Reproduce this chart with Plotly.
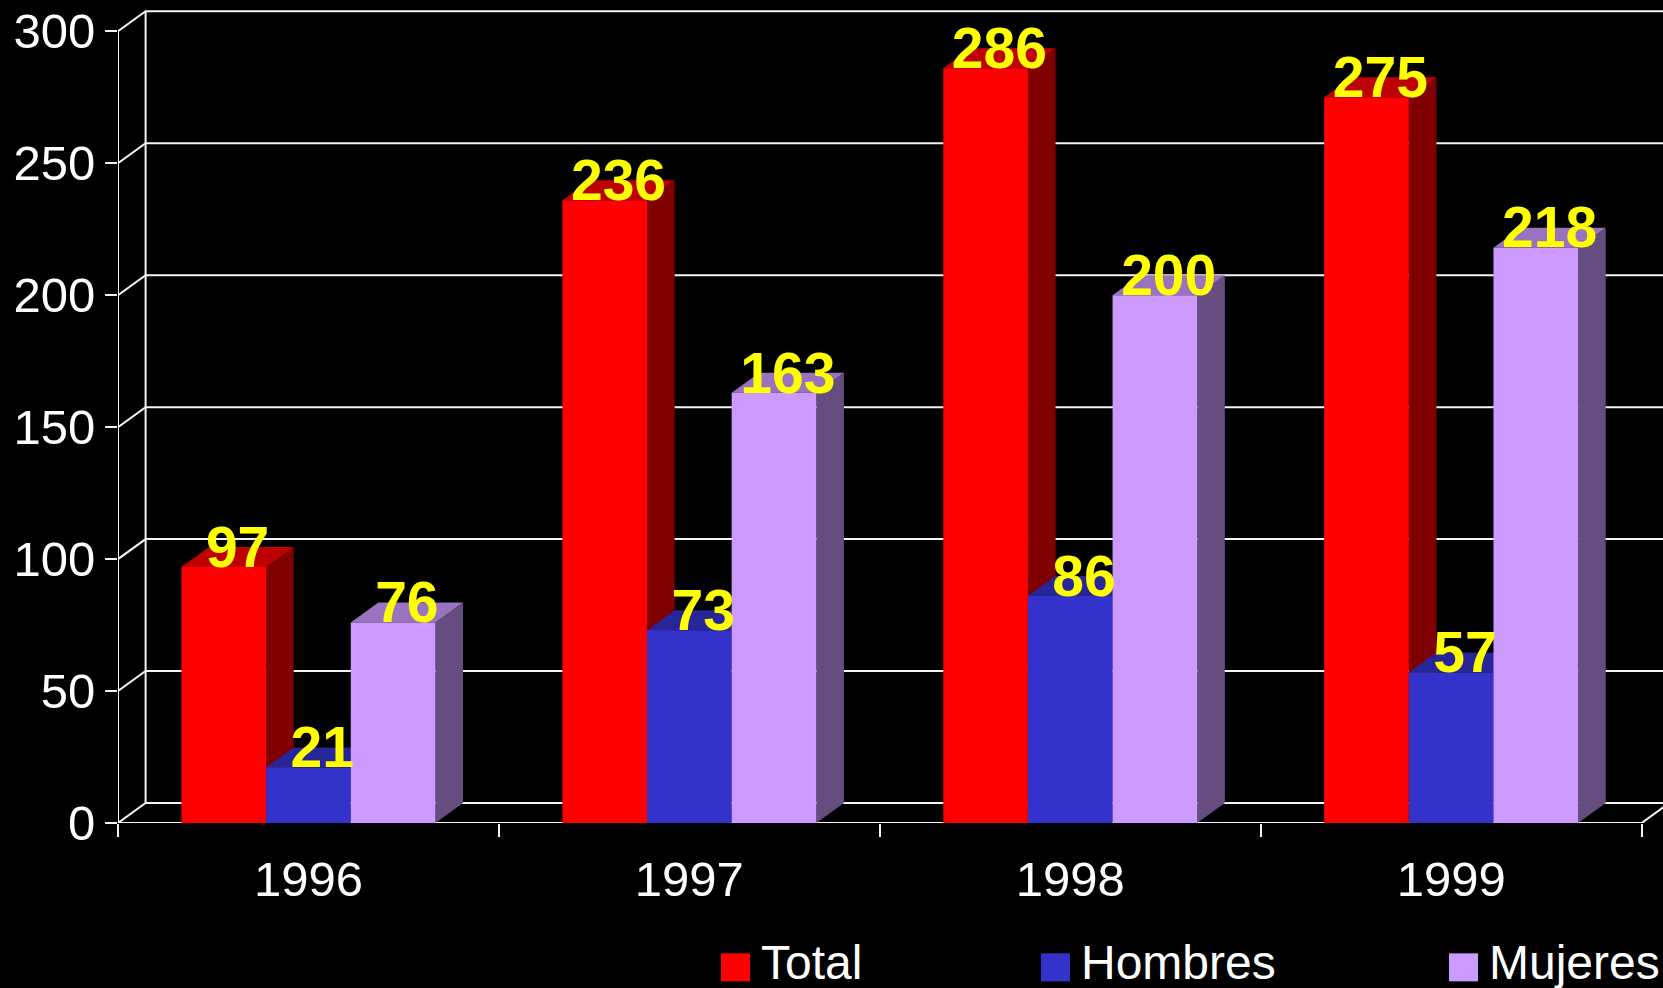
import plotly.graph_objects as go

years = ["1996", "1997", "1998", "1999"]
total = [97, 236, 286, 275]
hombres = [21, 73, 86, 57]
mujeres = [76, 163, 200, 218]
y_ticks = [0, 50, 100, 150, 200, 250, 300]

series = [
    ("Total", total, "#FF0000", "#800000", "#BF0000"),
    ("Hombres", hombres, "#3333CC", "#1A1A66", "#262699"),
    ("Mujeres", mujeres, "#CC99FF", "#664D80", "#9973BF"),
]

W, H = 1663, 988
ML, MT, MB = 118, 4, 165.3
PX_PER_CAT = 380.9
PX_PER_VAL = 2.638
XR = (-0.5, -0.5 + (W - ML) / PX_PER_CAT)
YR = (0, (H - MT - MB) / PX_PER_VAL)
DX = 27.6 / PX_PER_CAT
DY = 20.0 / PX_PER_VAL
LABEL_DY = 14.5 / PX_PER_VAL
BW = 2 / 9
LINE = "#F4F4F4"
LW = 2
FONT = "Liberation Sans"

fig = go.Figure()
xs = list(range(len(years)))

# frame and wall lines
gx, gy = [], []
for v in y_ticks:
    gx += [-0.5, -0.5 + DX, XR[1] + DX, None]
    gy += [v, v + DY, v + DY, None]
gx += [-0.5, -0.5, None, -0.5 + DX, -0.5 + DX, None, -0.5, 3.5, 3.5 + DX]
gy += [0, 300, None, DY, 300 + DY, None, 0, 0, DY]
fig.add_trace(go.Scatter(x=gx, y=gy, mode="lines", line=dict(color=LINE, width=LW),
                         cliponaxis=False, hoverinfo="skip", showlegend=False))

# depth faces
for k, (name, vals, front, side, top) in enumerate(series):
    sx, sy, tx, ty = [], [], [], []
    for i, v in zip(xs, vals):
        l = i + (k - 1.5) * BW
        r = l + BW
        sx += [r, r + DX, r + DX, r, r, None]
        sy += [0, DY, v + DY, v, 0, None]
        tx += [l, l + DX, r + DX, r, l, None]
        ty += [v, v + DY, v + DY, v, v, None]
    fig.add_trace(go.Scatter(x=sx, y=sy, mode="lines", fill="toself", fillcolor=side,
                             line=dict(width=0, color=side), hoverinfo="skip", showlegend=False))
    fig.add_trace(go.Scatter(x=tx, y=ty, mode="lines", fill="toself", fillcolor=top,
                             line=dict(width=0, color=top), hoverinfo="skip", showlegend=False))

# front faces
for name, vals, front, side, top in series:
    fig.add_trace(go.Bar(x=xs, y=vals, name=name, marker=dict(color=front, line=dict(width=0)),
                         xaxis="x2", yaxis="y2", showlegend=False))

# value labels
for k, (name, vals, front, side, top) in enumerate(series):
    fig.add_trace(go.Scatter(
        x=[i + (k - 1) * BW + DX / 2 for i in xs], y=[v + LABEL_DY for v in vals],
        text=[str(v) for v in vals], mode="text", textposition="middle center",
        textfont=dict(family=FONT, size=57, color="#FFFF00", weight="bold"),
        xaxis="x2", yaxis="y2", cliponaxis=False, hoverinfo="skip", showlegend=False))

fig.update_layout(
    width=W, height=H, autosize=False,
    margin=dict(l=ML, r=0, t=MT, b=MB, pad=0),
    paper_bgcolor="#000000", plot_bgcolor="#000000",
    barmode="group", bargap=1 / 3, bargroupgap=0,
    showlegend=False,
    font=dict(family=FONT, color="#FFFFFF"),
    xaxis=dict(range=XR, tickmode="array", tickvals=xs, ticktext=years,
               ticks="outside", ticklen=13, tickcolor="rgba(0,0,0,0)",
               tickfont=dict(family=FONT, size=49, color="#FFFFFF"),
               showgrid=False, zeroline=False, showline=False,
               minor=dict(tickmode="array", tickvals=[-0.5, 0.5, 1.5, 2.5, 3.5],
                          ticks="outside", ticklen=13, tickcolor=LINE, tickwidth=LW, showgrid=False)),
    yaxis=dict(range=YR, tickmode="array", tickvals=y_ticks,
               ticks="outside", ticklen=12, tickcolor=LINE, tickwidth=LW,
               tickfont=dict(family=FONT, size=49, color="#FFFFFF"),
               showgrid=False, zeroline=False, showline=False),
    xaxis2=dict(range=XR, overlaying="x", visible=False),
    yaxis2=dict(range=YR, overlaying="y", visible=False),
)

# legend row
plot_w = W - ML
plot_h = H - MT - MB
def px(x): return (x - ML) / plot_w
def py(y): return 1 - (y - MT) / plot_h
for (name, vals, front, side, top), sw_x in zip(series, [721, 1041, 1449]):
    fig.add_shape(type="rect", xref="paper", yref="paper", x0=px(sw_x), x1=px(sw_x + 29),
                  y0=py(981), y1=py(953), fillcolor=front, line=dict(width=0))
    fig.add_annotation(xref="paper", yref="paper", x=px(sw_x + 38), y=py(962), text=name,
                       showarrow=False, xanchor="left", yanchor="middle",
                       font=dict(family=FONT, size=48, color="#FFFFFF"))

fig.write_html("out.html", config={"displayModeBar": False},
               post_script="document.body.style.margin='0';document.body.style.overflow='hidden';")
